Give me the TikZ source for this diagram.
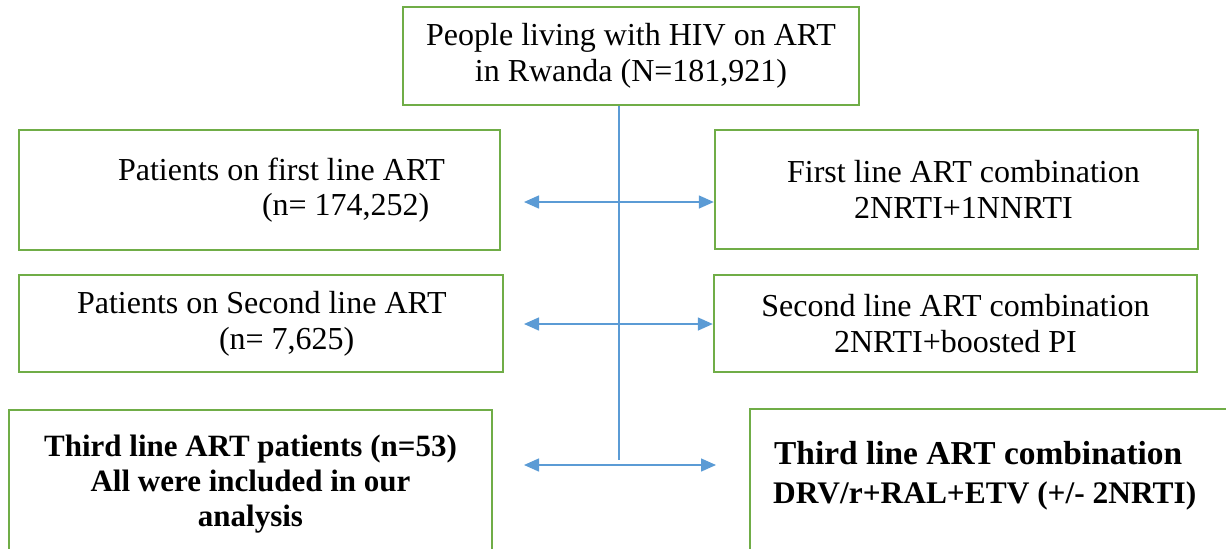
\documentclass[tikz,border=0pt]{standalone}
\usepackage{fontspec}
\setmainfont{Liberation Serif}
\usetikzlibrary{arrows.meta,calc,positioning}
\definecolor{OGreen}{HTML}{70AD47}
\definecolor{OBlue}{HTML}{5B9BD5}
\tikzset{
    block/.style = {draw=OGreen, line width=1.2pt, rectangle,
        inner sep=0pt,
        font=\fontsize{16}{17.8}\selectfont},
    boldblock/.style = {block, font=\fontsize{16}{18}\selectfont\bfseries},
    link/.style = {draw=OBlue, line width=0.75pt},
    biarrow/.style = {link, {Triangle[length=7.5pt,width=6.5pt]}-{Triangle[length=7.5pt,width=6.5pt]}}
}

\begin{document}
\begin{tikzpicture}[x=0.5pt,y=-0.5pt]
        \useasboundingbox (0,0) rectangle (1226,548);
        \clip (0,0) rectangle (1226,548);
        \node[block, text width=228pt, minimum height=49pt, align=flush center] (people) at (631,56) {People living with HIV on ART\\ in Rwanda (N=181,921)};
%       first line
        \node[block, text width=240.5pt, minimum height=60pt, align=flush left] (firstLine) at (259.5,190) {\hspace*{49.5pt}Patients on first line ART\\ \hspace*{121.5pt}(n= 174,252)};
        \node[block, text width=241.5pt, minimum height=59.5pt, align=flush center] (firstCombo) at (956.5,189.5) {\hspace*{7pt}First line ART combination\\ \hspace*{7pt}2NRTI+1NNRTI};
%       second line
        \node[block, text width=242pt, minimum height=48.5pt, align=flush left] (secondLine) at (261,323.5) {\hspace*{29pt}Patients on Second line ART\\ \hspace*{100pt}(n= 7,625)};
        \node[block, text width=241.5pt, minimum height=48.5pt, align=flush center] (secondCombo) at (955.5,323.5) {Second line ART combination\\ 2NRTI+boosted PI};
%       third line
        \node[boldblock, font=\fontsize{15.5}{17.5}\selectfont\bfseries, text width=241.5pt, text height=23pt, text depth=100pt, align=flush center, anchor=north] (thirdLine) at (250.5,409) {Third line ART patients (n=53)\\ All were included in our\\ analysis};
        \node[boldblock, font=\fontsize{16.7}{19.5}\selectfont\bfseries, text width=243pt, text height=27.5pt, text depth=100pt, align=flush left, anchor=north west] (thirdCombo) at (749,408) {\hspace*{12pt}Third line ART combination\\ \hspace*{11.5pt}{\fontsize{15.7}{19.5}\selectfont DRV/r+RAL+ETV (+/- 2NRTI)}};
%       connectors
        \coordinate (trunkEnd) at (619,460);
        \draw[link] (people.south -| trunkEnd) -- (trunkEnd);
        \coordinate (arrowA) at (524,202);
        \draw[biarrow] (arrowA) -- (arrowA -| firstCombo.west);
        \coordinate (arrowB) at (524,324);
        \draw[biarrow] (arrowB) -- (arrowB -| secondCombo.west);
        \coordinate (arrowC) at (524,465);
        \coordinate (arrowCEnd) at (716,465);
        \draw[biarrow] (arrowC) -- (arrowCEnd);
\end{tikzpicture}
\end{document}
